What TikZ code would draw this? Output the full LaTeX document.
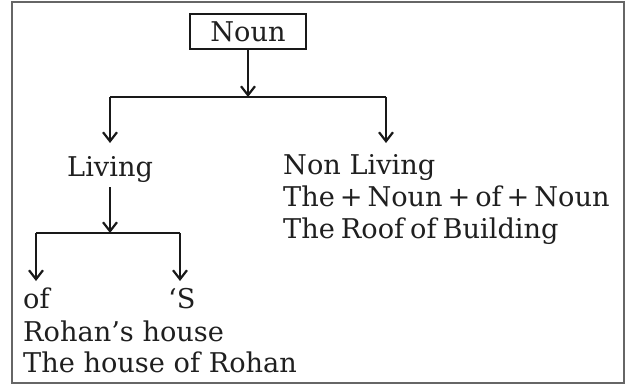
\documentclass[tikz,border=0pt]{standalone}
\usepackage{fontspec}
\setmainfont{DejaVu Serif}
\usetikzlibrary{arrows.meta}
\begin{document}
\begin{tikzpicture}[x=1pt,y=-1pt,
  txt/.style={anchor=base west,inner sep=0pt,text=black!88,font=\fontsize{27.2}{32}\selectfont},
  con/.style={line width=2.3pt,black!90},
  arr/.style={con,-{Straight Barb[length=9pt,width=14pt,line width=2.2pt]}},
  frame/.style={line width=1.5pt,black!60}]
\useasboundingbox (0,0) rectangle (631,385);
\draw[frame] (12,2) rectangle (624,383);
% top node
\node[draw=black!90,line width=2.4pt,minimum width=116pt,minimum height=35pt,inner sep=0pt,
      text=black!88,font=\fontsize{27.2}{32}\selectfont] (noun) at (248,31.5) {Noun};
% texts
\node[txt] (living) at (67,176) {Living};
\node[txt] (nonliving) at (283,174) {Non Living};
\node[txt] (formula) at (283,206) {\spaceskip=0.18em The + Noun + of + Noun};
\node[txt] (example) at (283,238) {\spaceskip=0.22em The Roof of Building};
\node[txt] (of) at (23,308) {of};
\node[txt] (s) at (168,308) {‘S};
\node[txt] (rohan) at (23,341) {Rohan’s house};
\node[txt] (house) at (23,372) {The house of Rohan};
% junctions
\coordinate (j1) at (248,97);
\coordinate (jl) at (110,97);
\coordinate (jr) at (386,97);
\coordinate (al) at (110,143);
\coordinate (ar) at (386,143);
\coordinate (ls) at (110,187);
\coordinate (j2) at (110,233);
\coordinate (kl) at (36,233);
\coordinate (kr) at (180,233);
\coordinate (bl) at (36,281);
\coordinate (br) at (180,281);
% connectors
\draw[arr] (noun.south) -- (j1);
\draw[con] (jl) -- (jr);
\draw[arr] (jl) -- (al);
\draw[arr] (jr) -- (ar);
\draw[arr] (ls) -- (j2);
\draw[con] (kl) -- (kr);
\draw[arr] (kl) -- (bl);
\draw[arr] (kr) -- (br);
\end{tikzpicture}
\end{document}
